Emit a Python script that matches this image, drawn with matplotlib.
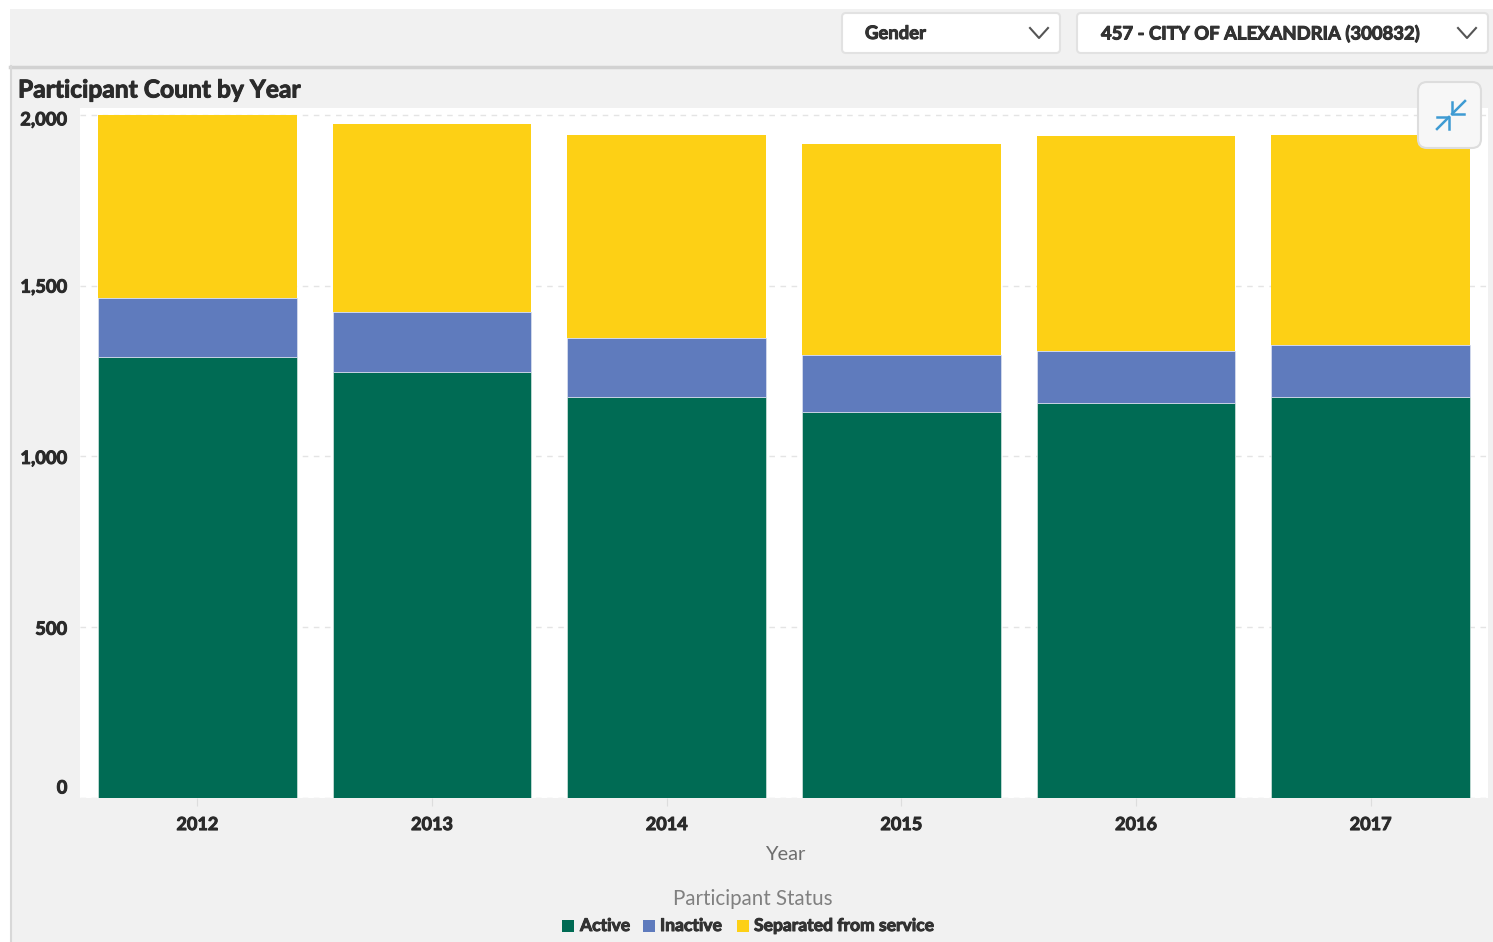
import matplotlib
matplotlib.use("Agg")
import matplotlib.pyplot as plt
import matplotlib.patheffects as pe
from matplotlib.patches import FancyBboxPatch, Rectangle
from matplotlib.transforms import ScaledTranslation
import numpy as np

plt.rcParams['font.family'] = ['Lato', 'DejaVu Sans']

years = ['2012', '2013', '2014', '2015', '2016', '2017']
active = [1291, 1247, 1174, 1130, 1157, 1174]
inactive = [173, 176, 174, 168, 153, 151]
separated = [536, 551, 594, 618, 627, 617]
y_ticks = [0, 500, 1000, 1500, 2000]
status_labels = ['Active', 'Inactive', 'Separated from service']
status_colors = ['#006B54', '#5F7BBD', '#FDD015']

W, H = 1493, 942
panel = '#F1F1F1'
heavy = [pe.withStroke(linewidth=0.7, foreground='#2A2A2A')]
fig = plt.figure(figsize=(W / 100, H / 100), dpi=100, facecolor='white')

# page furniture, drawn in pixel coordinates
bg = fig.add_axes([0, 0, 1, 1], zorder=0)
bg.set_xlim(0, W)
bg.set_ylim(H, 0)
bg.axis('off')
bg.add_patch(Rectangle((10, 9), W - 10, H - 9, fc=panel, ec='none'))
bg.plot([10, W], [66.5, 66.5], color='#D2D2D2', lw=2.5)
bg.plot([10.5, 10.5], [66, H], color='#D8D8D8', lw=1.5)

# plot area
left, right, top, bottom = 80, 1488, 108, 798
ax = fig.add_axes([left / W, 1 - bottom / H, (right - left) / W, (bottom - top) / H], zorder=1)
ax.set_facecolor('white')
x = np.arange(len(years))
a = np.array(active)
b = np.array(inactive)
c = np.array(separated)
ax.bar(x, a, width=0.848, color=status_colors[0], edgecolor='#D5E5E0', linewidth=0.5, zorder=2)
ax.bar(x, b, width=0.848, bottom=a, color=status_colors[1], edgecolor='#DCE2F0', linewidth=0.5, zorder=2)
ax.bar(x, c, width=0.848, bottom=a + b, color=status_colors[2], edgecolor='none', zorder=2)
ax.set_xlim(-0.5, 5.5)
ax.set_ylim(0, 2020)
ax.set_yticks(y_ticks)
ax.set_yticklabels([f'{v:,}' for v in y_ticks], fontsize=13.2, fontweight='bold', color='#2A2A2A', path_effects=heavy)
ax.set_xticks(x)
ax.set_xticklabels(years, fontsize=13, fontweight='bold', color='#2A2A2A', path_effects=heavy)
ax.tick_params(axis='x', length=6, color='#DDDDDD', pad=7)
ax.tick_params(axis='y', length=0, pad=9)
ax.yaxis.grid(True, color='#E4E4E4', linestyle=(0, (4, 4)), linewidth=1, zorder=1)
for s in ax.spines.values():
    s.set_visible(False)
# the end labels sit inside the plot's height, the others a little below their line
label_shift = [10, -2, -2, -1.5, -5]
for lab, dy in zip(ax.get_yticklabels(), label_shift):
    lab.set_verticalalignment('center')
    lab.set_transform(lab.get_transform() + ScaledTranslation(0, dy / 100, fig.dpi_scale_trans))

# overlay for text and controls
ov = fig.add_axes([0, 0, 1, 1], zorder=3)
ov.set_xlim(0, W)
ov.set_ylim(H, 0)
ov.axis('off')
ov.patch.set_alpha(0)

ov.text(18, 90, 'Participant Count by Year', fontsize=17.7, fontweight='bold', color='#2B2B2B', va='center', path_effects=heavy)
ov.text(785, 855, 'Year', fontsize=14.5, color='#6E6E6E', ha='center', va='center')
ov.text(752.5, 899, 'Participant Status', fontsize=14.8, color='#808080', ha='center', va='center')

# legend
legend_box = [562, 643, 737]
legend_text = [580, 660, 754]
for bx, tx, lab, col in zip(legend_box, legend_text, status_labels, status_colors):
    ov.add_patch(Rectangle((bx, 920), 12, 12, fc=col, ec='none'))
    ov.text(tx, 926, lab, fontsize=12.6, fontweight='bold', color='#333333', va='center', path_effects=heavy)

# dropdowns
for bx, bw, lab, tx in [(842, 218, 'Gender', 865), (1077, 411, '457 - CITY OF ALEXANDRIA (300832)', 1101)]:
    ov.add_patch(FancyBboxPatch((bx, 13), bw, 40, boxstyle='round,pad=0,rounding_size=4',
                                fc='white', ec='#E2E2E2', lw=1.5))
    ov.text(tx, 33.5, lab, fontsize=13.3, fontweight='bold', color='#333333', va='center', path_effects=heavy)
    cx = bx + bw - 21
    ov.plot([cx - 9, cx, cx + 9], [28, 38, 28], color='#555555', lw=1.5)

# collapse button
ov.add_patch(FancyBboxPatch((1418, 82), 63, 66, boxstyle='round,pad=0,rounding_size=9',
                            fc='#F7F7F7', ec='#DDDDDD', lw=1.5))
blue = '#3E9BD3'
ov.plot([1465, 1452], [101, 114], color=blue, lw=1.8)
ov.plot([1452, 1452, 1464], [102, 114, 114], color=blue, lw=1.8)
ov.plot([1437, 1449], [129, 117], color=blue, lw=1.8)
ov.plot([1437, 1449, 1449], [117, 117, 129], color=blue, lw=1.8)

fig.savefig('out.png', dpi=100, facecolor='white')
